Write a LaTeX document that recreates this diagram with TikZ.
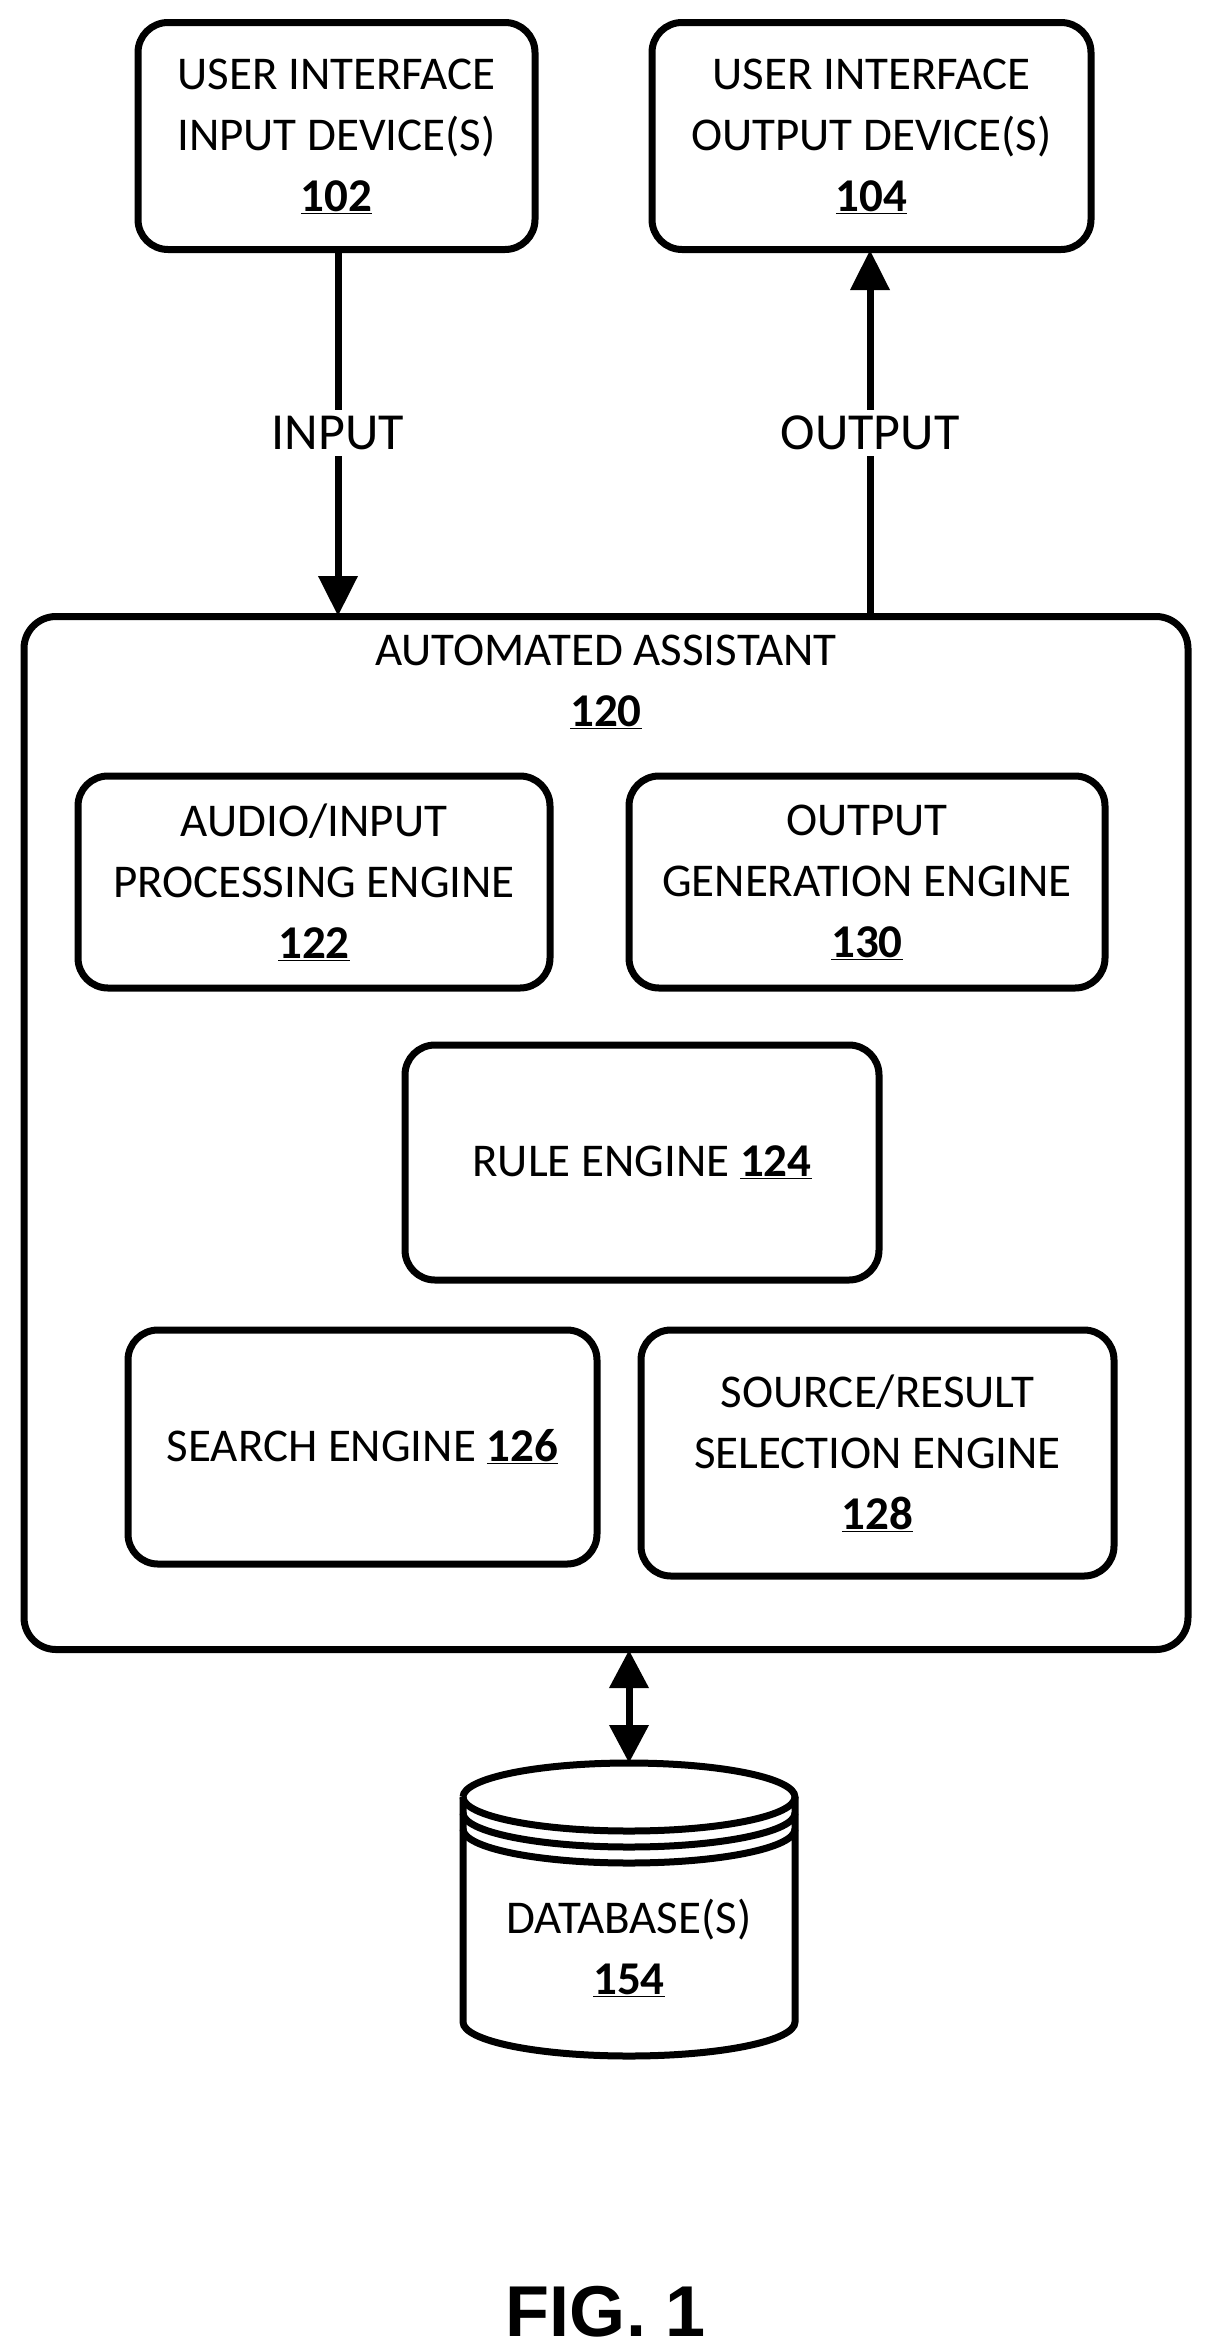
\documentclass[tikz,border=0pt]{standalone}
\usepackage{fontspec}
\setmainfont{Carlito}
\newfontfamily\figfont{Liberation Sans}
\usetikzlibrary{arrows.meta}
\begin{document}
\begin{tikzpicture}[x=1pt,y=-1pt,line width=7pt,
  box/.style={draw,rounded corners=30pt,align=center,font=\fontsize{47}{61}\selectfont},
  arr/.style={-{Triangle[length=40pt,width=38pt]}},
  lbl/.style={font=\fontsize{52}{60}\selectfont}]
\useasboundingbox (0,0) rectangle (1212,2351);
\node[box,minimum width=397pt,minimum height=227pt] (u102) at (336.5,136) {USER INTERFACE\\INPUT DEVICE(S)\\\textbf{\underline{102}}};
\node[box,minimum width=439pt,minimum height=227pt] (u104) at (871.5,136) {USER INTERFACE\\OUTPUT DEVICE(S)\\\textbf{\underline{104}}};
\node[draw,rounded corners=32pt,minimum width=1164pt,minimum height=1033pt] (aa) at (606,1133) {};
\node[align=center,font=\fontsize{47}{61}\selectfont,anchor=north] (t120) at (606,628) {AUTOMATED ASSISTANT\\\textbf{\underline{120}}};
\node[box,minimum width=472pt,minimum height=212pt] (e122) at (314,882) {AUDIO/INPUT\\PROCESSING ENGINE\\\textbf{\underline{122}}};
\node[box,minimum width=476pt,minimum height=212pt] (e130) at (867,882) {OUTPUT\\GENERATION ENGINE\\\textbf{\underline{130}}};
\node[box,minimum width=474pt,minimum height=235pt] (e124) at (642,1162.5) {RULE ENGINE \textbf{\underline{124}}};
\node[box,minimum width=469pt,minimum height=234pt] (e126) at (362.5,1447) {SEARCH ENGINE \textbf{\underline{126}}};
\node[box,minimum width=473pt,minimum height=246pt] (e128) at (877.5,1453) {SOURCE/RESULT\\SELECTION ENGINE\\\textbf{\underline{128}}};
\coordinate (inTop) at (338,250);
\coordinate (inBot) at (338,616);
\coordinate (outTop) at (870,250);
\coordinate (outBot) at (870,616);
\draw[arr] (inTop) -- node[fill=white,lbl,inner sep=6pt]{INPUT} (inBot);
\draw[arr] (outBot) -- node[fill=white,lbl,inner sep=6pt]{OUTPUT} (outTop);
% database
\coordinate (dbTop) at (629,1763);
\draw (463,1797) arc[start angle=180,end angle=-180,x radius=166pt,y radius=34pt];
\draw (463,1813) arc[start angle=180,end angle=360,x radius=166pt,y radius=34pt];
\draw (463,1829) arc[start angle=180,end angle=360,x radius=166pt,y radius=34pt];
\draw (463,1797) -- (463,2022) arc[start angle=180,end angle=360,x radius=166pt,y radius=34pt] -- (795,1797);
\node[align=center,font=\fontsize{47}{61}\selectfont] (db) at (629,1948) {DATABASE(S)\\\textbf{\underline{154}}};
\coordinate (aaBot) at (629,1650);
\draw[{Triangle[length=38pt,width=38pt]}-{Triangle[length=38pt,width=38pt]}] (aaBot) -- (dbTop);
\node[font=\figfont\bfseries\fontsize{72}{80}\selectfont] (fig) at (606,2312) {FIG. 1};
\end{tikzpicture}
\end{document}
